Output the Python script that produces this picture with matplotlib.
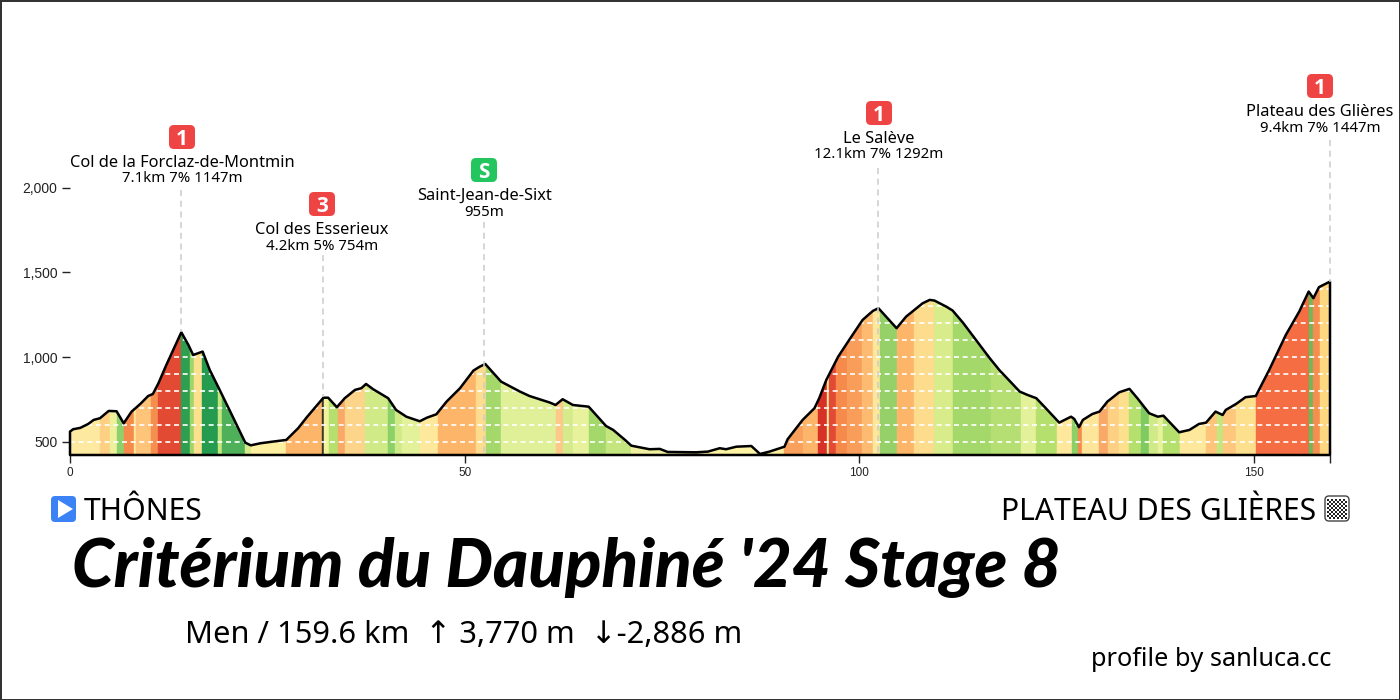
import matplotlib
matplotlib.use('Agg')
import matplotlib.pyplot as plt
from matplotlib.patches import FancyBboxPatch, Polygon, Rectangle

# profile
km = [0, 0.4, 1.3, 2.3, 3.0, 3.8, 4.9, 5.9, 6.8, 7.8, 8.9, 9.9, 10.5, 11.2, 12.2, 14.1, 15.0, 15.6, 16.8, 17.7,
      19.0, 20.3, 22.2, 22.9, 24.1, 25.7, 27.4, 28.9, 30.0, 32.1, 32.7, 33.8, 34.8, 36.1, 36.9, 37.5, 38.4, 40.3,
      41.3, 42.6, 44.3, 45.2, 46.4, 47.7, 49.4, 51.1, 51.9, 52.6, 54.6, 57.0, 58.2, 60.8, 61.5, 62.4, 63.7, 65.7,
      67.9, 68.8, 70.3, 71.1, 73.4, 74.7, 75.7, 79.3, 80.8, 82.3, 83.1, 84.4, 86.3, 87.4, 88.6, 90.5, 90.9, 92.8,
      94.3, 94.9, 95.8, 97.3, 98.7, 100.4, 101.7, 102.4, 104.7, 105.9, 108.0, 108.9, 109.5, 111.0, 111.8, 113.1,
      116.5, 117.7, 120.3, 121.3, 122.4, 123.6, 125.3, 126.8, 127.2, 127.8, 128.3, 129.5, 130.4, 131.4, 132.9,
      134.2, 135.2, 136.7, 137.8, 138.5, 140.5, 141.8, 143.0, 143.9, 145.1, 146.0, 146.4, 147.7, 148.9, 150.2,
      151.9, 154.0, 155.7, 156.9, 157.5, 158.2, 159.6]
elevation = [561, 575, 583, 606, 630, 640, 683, 681, 610, 679, 724, 771, 783, 846, 954, 1147, 1072, 1013, 1033, 925,
             803, 679, 496, 480, 492, 502, 512, 581, 646, 761, 761, 705, 758, 807, 817, 842, 811, 758,
             689, 649, 622, 643, 663, 738, 817, 921, 944, 960, 856, 797, 771, 732, 718, 752, 718, 708,
             594, 571, 512, 478, 457, 459, 441, 439, 443, 463, 457, 472, 476, 429, 443, 472, 516, 630,
             699, 758, 866, 1003, 1102, 1220, 1273, 1289, 1171, 1239, 1318, 1338, 1334, 1298, 1275, 1204,
             994, 925, 797, 777, 758, 699, 614, 649, 636, 587, 630, 665, 679, 738, 793,
             813, 758, 669, 649, 655, 557, 571, 606, 614, 679, 659, 689, 724, 764, 771,
             925, 1131, 1269, 1387, 1348, 1413, 1446]

# gradient stripes
seg_start = [0, 3.8, 5.1, 5.9, 6.8, 8.1, 8.4, 10.3, 11.2, 14.1, 15.2, 15.7, 16.7, 18.8, 19.2, 22.2, 22.9, 27.4,
             31.95, 32.15, 32.8, 33.9, 34.8, 37.4, 40.3, 41.2, 42.0, 44.3, 46.6, 51.4, 52.7, 54.6, 61.5, 62.4, 63.7,
             65.7, 67.9, 71.1, 75.5, 87.4, 90.5, 92.9, 94.7, 95.9, 96.1, 97.0, 98.4, 100.3, 101.7, 102.6, 104.7,
             106.9, 109.5, 111.8, 116.6, 120.4, 122.3, 125.0, 126.9, 127.7, 128.2, 130.4, 131.5, 132.9, 134.2,
             135.7, 136.7, 137.8, 138.5, 140.6, 143.9, 145.3, 146.0, 147.7, 150.2, 156.9, 157.4, 158.3]
seg_color = ['#fde9a0', '#fdd084', '#eef09c', '#8ed16c', '#f58a4b', '#fde79a', '#fdc47a', '#f58f50', '#e34a33',
             '#2e9e50', '#9fd66a', '#fde08e', '#259b50', '#c5e67e', '#4fb05a', '#d5ea8a', '#fdf0a0', '#fdb56a',
             '#3a3a2a', '#f2f29c', '#b5e06e', '#f9a868', '#fdd58a', '#cfea86', '#8cd068', '#cfea86', '#e3f29a',
             '#fde89c', '#fdb56a', '#fddc8e', '#a5d86a', '#e0f098', '#fdc88a', '#d5ea8a', '#e8f29c', '#a5d86a',
             '#c5e67e', '#f0f0a0', '#fdf3a5', '#fdf0a0', '#f9a05c', '#fdb56a', '#d73027', '#fde79a', '#e34a33',
             '#f58a4b', '#f99d5a', '#fdbb72', '#fde79a', '#96d068', '#fdb56a', '#fddc8e', '#d8ec8c', '#a5d86a',
             '#b5df72', '#e3f29a', '#b5e06e', '#fde89c', '#8cd068', '#f58a4b', '#fde59a', '#f9a868', '#fdd084',
             '#fde08e', '#b5e06e', '#7fcb62', '#cfea86', '#e8f29c', '#b5e06e', '#fde89c', '#fdc47a', '#c5e67e',
             '#fdc87e', '#fde08e', '#f46d43', '#6fb85a', '#f58f50', '#fdd880']

# climbs
climb_km = [14.1, 32.0, 52.4, 102.3, 159.6]
climb_name = ['Col de la Forclaz-de-Montmin', 'Col des Esserieux', 'Saint-Jean-de-Sixt', 'Le Salève', 'Plateau des Glières']
climb_info = ['7.1km 7% 1147m', '4.2km 5% 754m', '955m', '12.1km 7% 1292m', '9.4km 7% 1447m']
climb_cat = ['1', '3', 'S', '1', '1']

x_ticks = [0, 50, 100, 150]
y_ticks = [500, 1000, 1500, 2000]
grid_levels = [500, 600, 700, 800, 900, 1000, 1100, 1200, 1300, 1400]

start_name = 'THÔNES'
finish_name = 'PLATEAU DES GLIÈRES'
title = "Critérium du Dauphiné '24 Stage 8"
subtitle = 'Men / 159.6 km  ↑ 3,770 m  ↓-2,886 m'
credit = 'profile by sanluca.cc'

LABEL_FONT = ['Noto Sans', 'DejaVu Sans']

fig = plt.figure(figsize=(14, 7), dpi=100, facecolor='white', edgecolor='#333333', linewidth=2)
ax = fig.add_axes([70 / 1400, 245 / 700, 1260 / 1400, 435 / 700])
ax.set_xlim(0, 159.6)
ax.set_ylim(423, 2989)
ax.patch.set_alpha(0)

outline = list(zip(km, elevation)) + [(159.6, 423), (0, 423)]
clip = Polygon(outline, closed=True, transform=ax.transData, facecolor='none', edgecolor='none')
ax.add_patch(clip)

seg_end = seg_start[1:] + [159.6]
for s, e, c in zip(seg_start, seg_end, seg_color):
    span = ax.axvspan(s, e, facecolor=c, edgecolor=c, linewidth=0.3, zorder=1)
    span.set_clip_path(clip)

# white dashes only show inside the profile
for level in grid_levels:
    line = ax.axhline(level, color='white', lw=1.2, ls=(0, (3, 2.2)), zorder=2)
    line.set_clip_path(clip)

ax.add_patch(Polygon(outline, closed=True, facecolor='none', edgecolor='black', lw=1.8,
                     joinstyle='round', zorder=4, clip_on=False))

for spine in ax.spines.values():
    spine.set_visible(False)

ax.set_xticks(x_ticks + [159.6], labels=[f'{t:,}' for t in x_ticks] + [''])
ax.set_yticks(y_ticks, labels=[f'{t:,}' for t in y_ticks])
ax.tick_params(axis='both', length=6, width=1, color='#222222', labelcolor='#222222', pad=3)
ax.tick_params(axis='x', labelsize=8.5)
ax.tick_params(axis='y', labelsize=10)
ax.xaxis.get_major_ticks()[-1].tick1line.set_color('#aaaaaa')
for lab in ax.get_xticklabels() + ax.get_yticklabels():
    lab.set_family('Liberation Sans')

# overlay in pixel coordinates for labels and icons
ov = fig.add_axes([0, 0, 1, 1])
ov.set_xlim(0, 1400)
ov.set_ylim(700, 0)
ov.axis('off')
ov.patch.set_alpha(0)

badge_y = [137, 204, 170, 113, 86]
label_x = [182, 322, 484, 879, 1320]
line_top = [190, 255, 222, 168, 140]
line_end = [332, 397, 455, 455, 282]
cat_color = {'1': '#ef4444', '3': '#ef4444', 'S': '#22c55e'}
for i in range(len(climb_km)):
    px = 70 + climb_km[i] / 159.6 * 1260
    y = badge_y[i]
    ov.plot([px, px], [line_top[i], line_end[i]], color='#cccccc', lw=1.1, ls=(0, (4, 3)), zorder=5)
    ov.add_patch(FancyBboxPatch((label_x[i] - 8, y - 7), 16, 14, boxstyle='round,pad=5,rounding_size=5',
                                facecolor=cat_color[climb_cat[i]], edgecolor='none', zorder=6))
    ov.text(label_x[i], y, climb_cat[i], color='white', fontsize=15, fontweight='bold', family='Open Sans',
            ha='center', va='center_baseline', zorder=7)
    ov.text(label_x[i], y + 26, climb_name[i], fontsize=11.8, family=LABEL_FONT, ha='center', va='center', zorder=7)
    ov.text(label_x[i], y + 42, climb_info[i], fontsize=10.8, family=LABEL_FONT, ha='center', va='center', zorder=7)

# start icon
ov.add_patch(FancyBboxPatch((55, 500), 17, 18, boxstyle='round,pad=4,rounding_size=4', facecolor='#3b82f6', edgecolor='none'))
ov.add_patch(Polygon([(58, 500), (58, 518), (73, 509)], closed=True, facecolor='white', edgecolor='none'))
ov.text(84, 512, start_name, fontsize=21.7, family=LABEL_FONT, ha='left', va='center')
ov.text(1316, 512, finish_name, fontsize=21.7, family=LABEL_FONT, ha='right', va='center')

# finish flag icon
ov.add_patch(FancyBboxPatch((1329, 500), 16, 17, boxstyle='round,pad=4,rounding_size=4', facecolor='white',
                            edgecolor='#444444', lw=1))
for row in range(10):
    for col in range(10):
        if (row + col) % 2 == 0:
            ov.add_patch(Rectangle((1327 + col * 2, 499 + row * 2), 2, 2, facecolor='#222222', edgecolor='none'))

ov.text(72, 568, title, fontsize=48.4, fontweight='black', fontstyle='italic', family=['Lato', 'DejaVu Sans'],
        ha='left', va='center')
ov.text(185, 635, subtitle, fontsize=22.2, family=LABEL_FONT, ha='left', va='center')
ov.text(1331, 659, credit, fontsize=18.2, family=LABEL_FONT, ha='right', va='center')

fig.savefig('out.png', dpi=100)
